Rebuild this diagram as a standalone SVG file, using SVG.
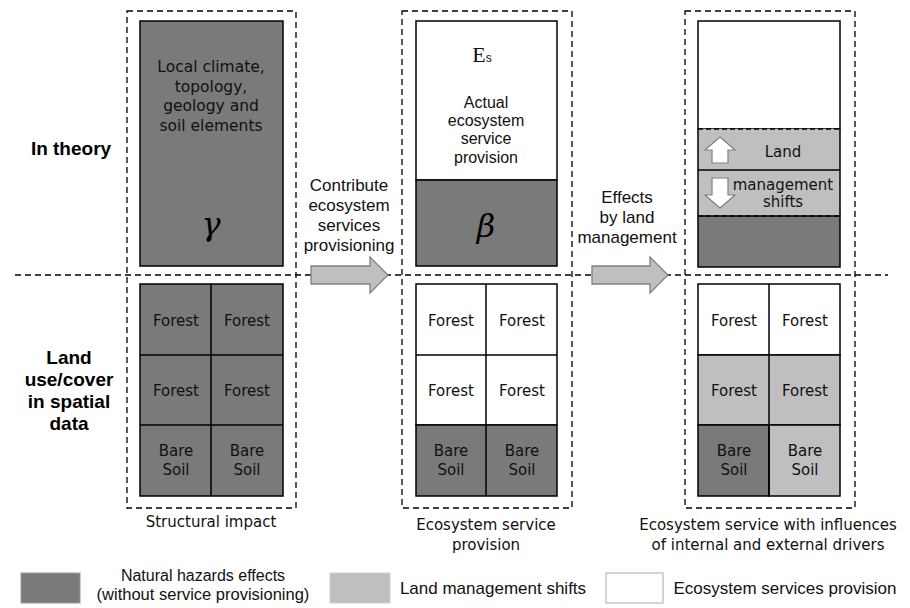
<svg xmlns="http://www.w3.org/2000/svg" width="910" height="608" viewBox="0 0 910 608">
<style>
.dash{fill:none;stroke:#000;stroke-width:1.3;stroke-dasharray:6 4}
.dk{fill:#7a7a7a;stroke:#000;stroke-width:1.5}
.lt{fill:#bfbfbf;stroke:#000;stroke-width:1.5}
.wh{fill:#fff;stroke:#000;stroke-width:1.5}
.ln{stroke:#000;stroke-width:1.5;fill:none}
.t{font-family:"DejaVu Sans",Verdana,sans-serif;font-size:15px;fill:#111;text-anchor:middle}
.a{font-family:"Liberation Sans",Arial,sans-serif;font-size:17px;fill:#111;text-anchor:middle}
.b{font-family:"Liberation Sans",Arial,sans-serif;font-size:19px;font-weight:bold;fill:#000;text-anchor:middle}
.g{font-family:"DejaVu Serif","Liberation Serif",serif;font-style:italic;font-size:32px;fill:#000;text-anchor:middle}
.lg{font-family:"Liberation Sans",Arial,sans-serif;font-size:17px;fill:#111;text-anchor:middle}
.arr{fill:#bfbfbf;stroke:#808080;stroke-width:1.3}
.ua{fill:#fff;stroke:#808080;stroke-width:1.2}
</style>

<g id="row-labels">
<text class="b" x="71" y="155">In theory</text>
<text class="b" x="69" y="364">Land</text>
<text class="b" x="69" y="386">use/cover</text>
<text class="b" x="69" y="408">in spatial</text>
<text class="b" x="69" y="430">data</text>
</g>

<g id="connectors">
<line class="dash" x1="15" y1="275" x2="888" y2="275"/>
<polygon class="arr" points="311,266 370,266 370,257 388,275 370,293 370,284 311,284"/>
<polygon class="arr" points="592,266 650,266 650,257 668,275 650,293 650,284 592,284"/>
<text class="a" x="349" y="191">Contribute</text>
<text class="a" x="349" y="211">ecosystem</text>
<text class="a" x="349" y="231">services</text>
<text class="a" x="349" y="251">provisioning</text>
<text class="a" x="627" y="203">Effects</text>
<text class="a" x="627" y="223">by land</text>
<text class="a" x="627" y="243">management</text>
</g>

<g id="col-structural">
<rect class="dash" x="127" y="11" width="169" height="497"/>
<rect class="dk" x="140" y="21" width="143" height="245"/>
<text class="t" x="211" y="72" style="font-size:15.5px">Local climate,</text>
<text class="t" x="211" y="92" style="font-size:15.5px">topology,</text>
<text class="t" x="211" y="111" style="font-size:15.5px">geology and</text>
<text class="t" x="211" y="131" style="font-size:15.5px">soil elements</text>
<text class="g" x="211" y="235">γ</text>
<rect class="dk" x="140" y="284" width="143" height="212"/>
<line class="ln" x1="211" y1="284" x2="211" y2="496"/>
<line class="ln" x1="140" y1="355" x2="283" y2="355"/>
<line class="ln" x1="140" y1="425" x2="283" y2="425"/>
<text class="t" x="176" y="326">Forest</text>
<text class="t" x="247" y="326">Forest</text>
<text class="t" x="176" y="396">Forest</text>
<text class="t" x="247" y="396">Forest</text>
<text class="t" x="176" y="456">Bare</text>
<text class="t" x="247" y="456">Bare</text>
<text class="t" x="176" y="475">Soil</text>
<text class="t" x="247" y="475">Soil</text>
<text class="t" x="211" y="527">Structural impact</text>
</g>

<g id="col-provision">
<rect class="dash" x="402" y="11" width="170" height="497"/>
<rect class="wh" x="416" y="21" width="141" height="159"/>
<rect class="dk" x="416" y="180" width="141" height="86"/>
<text x="482" y="62" font-family="'Liberation Serif',serif" font-size="22" fill="#111" text-anchor="middle">E<tspan font-family="'Liberation Sans',sans-serif" font-size="12">s</tspan></text>
<text class="a" x="486" y="108" style="font-size:16px">Actual</text>
<text class="a" x="486" y="126" style="font-size:16px">ecosystem</text>
<text class="a" x="486" y="144" style="font-size:16px">service</text>
<text class="a" x="486" y="163" style="font-size:16px">provision</text>
<text class="g" x="486" y="237">β</text>
<rect class="wh" x="416" y="284" width="141" height="141"/>
<rect class="dk" x="416" y="425" width="141" height="71"/>
<line class="ln" x1="486" y1="284" x2="486" y2="496"/>
<line class="ln" x1="416" y1="355" x2="557" y2="355"/>
<text class="t" x="451" y="326">Forest</text>
<text class="t" x="522" y="326">Forest</text>
<text class="t" x="451" y="396">Forest</text>
<text class="t" x="522" y="396">Forest</text>
<text class="t" x="451" y="456">Bare</text>
<text class="t" x="522" y="456">Bare</text>
<text class="t" x="451" y="475">Soil</text>
<text class="t" x="522" y="475">Soil</text>
<text class="t" x="486" y="530">Ecosystem service</text>
<text class="t" x="486" y="550">provision</text>
</g>

<g id="col-influences">
<rect class="dash" x="685" y="11" width="170" height="497"/>
<rect class="wh" x="698" y="21" width="142" height="108"/>
<rect x="698" y="129" width="142" height="87" fill="#bfbfbf"/>
<rect class="dk" x="698" y="216" width="142" height="51"/>
<line class="ln" x1="698" y1="129" x2="698" y2="216"/>
<line class="ln" x1="840" y1="129" x2="840" y2="216"/>
<line class="ln" x1="698" y1="170" x2="840" y2="170"/>
<line x1="698" y1="129" x2="840" y2="129" stroke="#000" stroke-width="1.3" stroke-dasharray="5 3"/>
<line x1="698" y1="216" x2="840" y2="216" stroke="#000" stroke-width="1.3" stroke-dasharray="5 3"/>
<polygon class="ua" points="720,137 735,150 728,150 728,163 712,163 712,150 705,150"/>
<polygon class="ua" points="712,178 728,178 728,195 735,195 720,208 705,195 712,195"/>
<text class="t" x="783" y="157">Land</text>
<text class="t" x="783" y="190">management</text>
<text class="t" x="783" y="207">shifts</text>
<rect class="wh" x="698" y="284" width="142" height="71"/>
<rect class="lt" x="698" y="355" width="142" height="70"/>
<rect class="dk" x="698" y="425" width="71" height="71"/>
<rect class="lt" x="769" y="425" width="71" height="71"/>
<line class="ln" x1="769" y1="284" x2="769" y2="496"/>
<text class="t" x="734" y="326">Forest</text>
<text class="t" x="805" y="326">Forest</text>
<text class="t" x="734" y="396">Forest</text>
<text class="t" x="805" y="396">Forest</text>
<text class="t" x="734" y="456">Bare</text>
<text class="t" x="805" y="456">Bare</text>
<text class="t" x="734" y="475">Soil</text>
<text class="t" x="805" y="475">Soil</text>
<text class="t" x="768" y="530">Ecosystem service with influences</text>
<text class="t" x="768" y="550">of internal and external drivers</text>
</g>

<g id="legend">
<rect x="21" y="573" width="59" height="30" fill="#7a7a7a" stroke="#999" stroke-width="1"/>
<text class="lg" x="203" y="581" style="font-size:16px">Natural hazards effects</text>
<text class="lg" x="203" y="600" style="font-size:16.5px">(without service provisioning)</text>
<rect x="330" y="573" width="60" height="30" fill="#bfbfbf" stroke="#ccc" stroke-width="1"/>
<text class="lg" x="493" y="594">Land management shifts</text>
<rect x="606" y="573" width="57" height="30" fill="#fff" stroke="#aaa" stroke-width="1"/>
<text class="lg" x="785" y="594">Ecosystem services provision</text>
</g>
</svg>
